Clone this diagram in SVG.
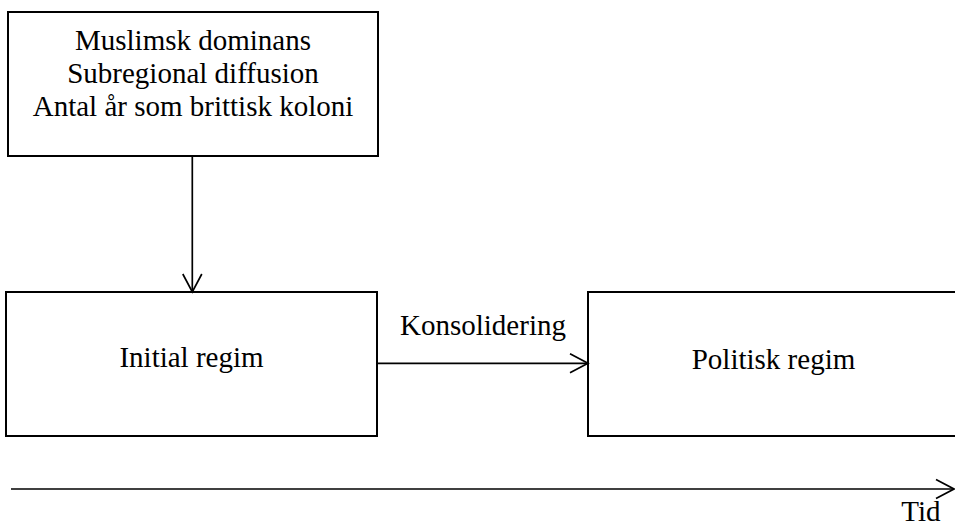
<svg xmlns="http://www.w3.org/2000/svg" width="955" height="528" viewBox="0 0 955 528">
<style>
.box{fill:#fff;stroke:#000;stroke-width:2}
.edge{fill:none;stroke:#000;stroke-width:1.7}
text{font-family:"Liberation Serif","Times New Roman",serif;font-size:29px;fill:#000;text-anchor:middle}
</style>
<defs>
<marker id="arr" viewBox="-20 -11 22 22" refX="0" refY="0" markerWidth="22" markerHeight="22" markerUnits="userSpaceOnUse" orient="auto" overflow="visible">
<path d="M-18,-9.5 L0,0 L-18,9.5" fill="none" stroke="#000" stroke-width="1.7"/>
</marker>
</defs>
<rect width="955" height="528" fill="#fff"/>
<g id="factors">
<rect class="box" x="8" y="12" width="370" height="144"/>
<text x="193" y="50">Muslimsk dominans</text>
<text x="193" y="83">Subregional diffusion</text>
<text x="193" y="116">Antal år som brittisk koloni</text>
</g>
<g id="initial">
<rect class="box" x="6" y="292" width="371" height="144"/>
<text x="191.5" y="367">Initial regim</text>
</g>
<g id="political">
<rect class="box" x="588" y="292" width="380" height="144"/>
<text x="773.5" y="369">Politisk regim</text>
</g>
<g id="connectors">
<line class="edge" x1="192.3" y1="156" x2="192.3" y2="292" marker-end="url(#arr)"/>
<line class="edge" x1="377" y1="363.3" x2="588" y2="363.3" marker-end="url(#arr)"/>
<text x="483" y="335">Konsolidering</text>
<line class="edge" x1="11" y1="489" x2="954" y2="489" marker-end="url(#arr)"/>
<text x="921" y="521">Tid</text>
</g>
</svg>
